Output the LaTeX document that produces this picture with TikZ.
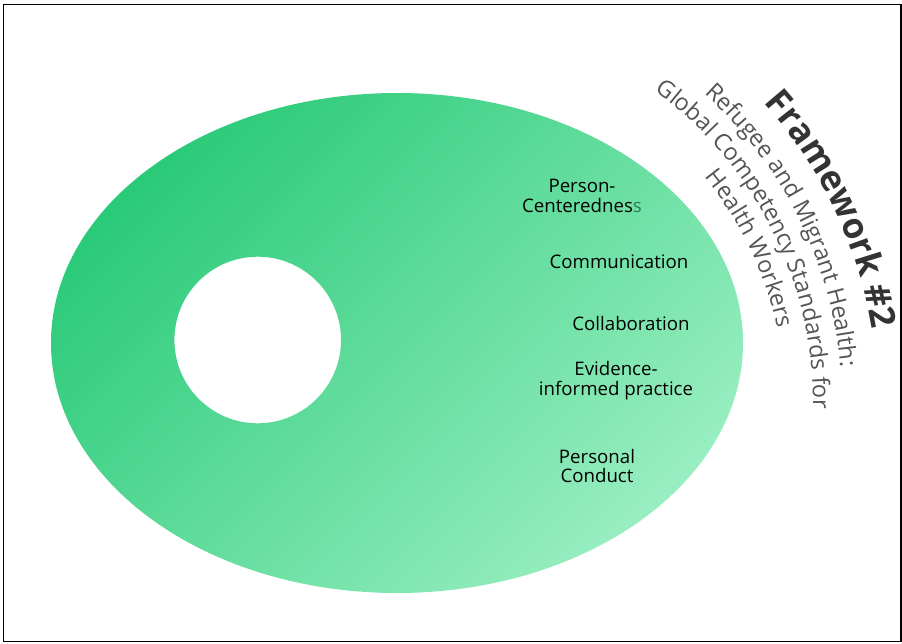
\documentclass[tikz,border=0pt]{standalone}
\usepackage{fontspec}
\setmainfont{Open Sans}
\usetikzlibrary{decorations.text}

\definecolor{ringdark}{RGB}{42,202,120}
\definecolor{ringlight}{RGB}{152,238,192}
\definecolor{titlegray}{RGB}{51,51,51}
\definecolor{subgray}{RGB}{85,85,85}
\definecolor{sgreen}{RGB}{45,125,80}

\tikzset{
  item/.style={align=center, font=\fontsize{14}{14.5}\selectfont, text=black, inner sep=0pt},
  arctext/.style={decorate, decoration={text along path, text align=center, text color=#1}},
}

\begin{document}
\begin{tikzpicture}[x=0.75pt, y=-0.75pt]
  \useasboundingbox (0,0) rectangle (902,643);
  \draw[line width=1.1pt] (3.75,4.75) rectangle (901,641.75);

  \coordinate (ring) at (397,343);
  \coordinate (hole) at (257.7,340);
  \shade[even odd rule, top color=ringdark, bottom color=ringlight, shading angle=45]
    (ring) ellipse [x radius=346, y radius=250]
    (hole) circle [radius=83.3];

  \node[item] (person) at (582,196) {Person-\\Centerednes\textcolor{sgreen}{s}};
  \node[item] (comm) at (619,262) {Communication};
  \node[item] (collab) at (631,323) {Collaboration};
  \node[item] (evid) at (616,380.5) {Evidence-\\informed practice};
  \node[item] (conduct) at (597,466) {Personal\\Conduct};

  % arched title
  \coordinate (arc) at (426,403);
  \path (arc) ++(-44:452) coordinate (fw);
  \path (arc) ++(-49.5:416) coordinate (sub1);
  \path (arc) ++(-55:387) coordinate (sub2);
  \path (arc) ++(-40:359) coordinate (sub3);

  \path[arctext=titlegray, decoration={text={|\fontsize{26.5}{30}\selectfont\bfseries|Framework {\#}2}}]
    (fw) arc [start angle=-44, end angle=-7, radius=452];
  \path[arctext=subgray, decoration={text={|\fontsize{17.6}{20}\selectfont|Refugee and Migrant Health:}}]
    (sub1) arc [start angle=-49.5, end angle=-3.5, radius=416];
  \path[arctext=subgray, decoration={text={|\fontsize{17.6}{20}\selectfont|Global Competency Standards for}}]
    (sub2) arc [start angle=-55, end angle=2, radius=387];
  \path[arctext=subgray, decoration={text={|\fontsize{17.6}{20}\selectfont|Health Workers}}]
    (sub3) arc [start angle=-40, end angle=-11, radius=359];
\end{tikzpicture}
\end{document}
